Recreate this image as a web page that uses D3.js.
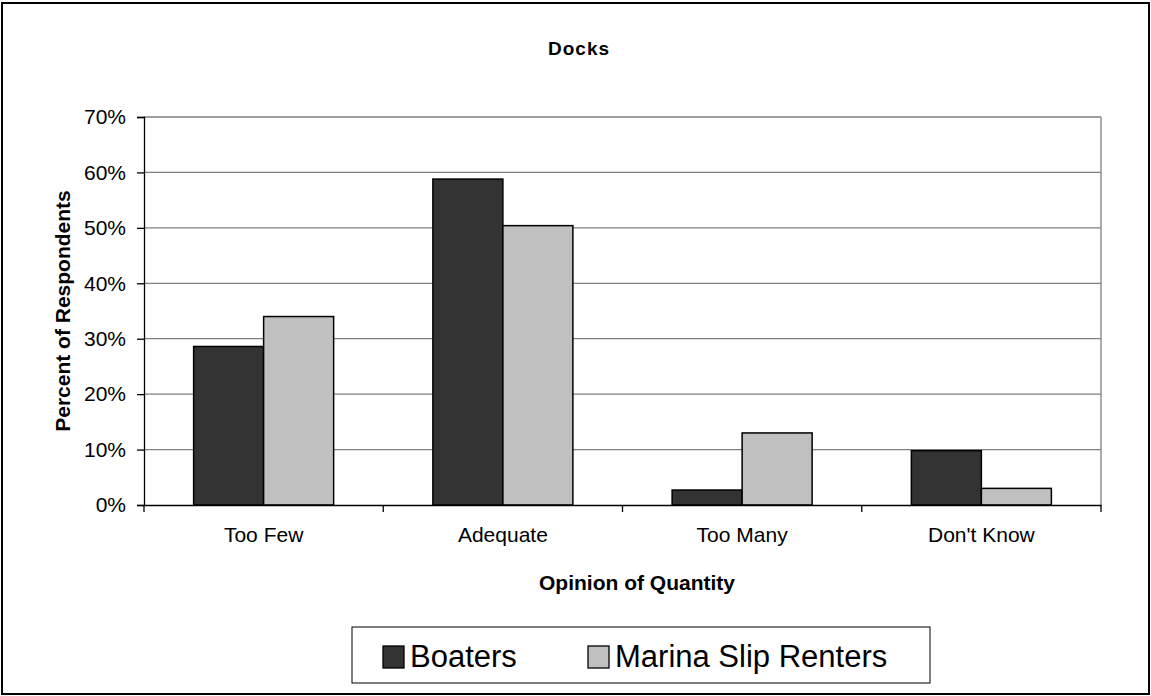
<!DOCTYPE html>
<html><head><meta charset="utf-8">
<script src="https://cdn.jsdelivr.net/npm/d3@7"></script>
<style>body{margin:0;background:#fff}svg{display:block}text{font-family:"Liberation Sans",Arial,sans-serif}</style>
</head><body><svg id="c" width="1151" height="696"></svg>
<script>
const categories = ["Too Few", "Adequate", "Too Many", "Don't Know"];
const series = ["Boaters", "Marina Slip Renters"];
const boaters = [28.6, 58.8, 2.7, 9.8];
const slipRenters = [34.0, 50.4, 13.0, 3.0];
const yTicks = [0, 10, 20, 30, 40, 50, 60, 70];
const colors = ["#333333", "#c0c0c0"];
const values = [boaters, slipRenters];

const svg = d3.select("#c");
svg.append("rect").attr("x", 2).attr("y", 3).attr("width", 1147).attr("height", 691)
  .attr("fill", "#fff").attr("stroke", "#000").attr("stroke-width", 2);

const L = 144, R = 1101, T = 117, B = 505;
const x = d3.scaleBand().domain(categories).range([L, R]).padding(0);
const y = d3.scaleLinear().domain([0, 70]).range([B, T]);
const bw = x.bandwidth();
const groupW = 140;
const x1 = d3.scaleBand().domain(series).range([(bw - groupW) / 2, (bw + groupW) / 2]);

// gridlines
svg.append("g").selectAll("line").data(yTicks.filter(d => d > 0)).join("line")
  .attr("x1", L).attr("x2", R).attr("y1", d => y(d)).attr("y2", d => y(d))
  .attr("stroke", "#808080").attr("stroke-width", 1.3);
// right border
svg.append("line").attr("x1", R).attr("x2", R).attr("y1", T).attr("y2", B)
  .attr("stroke", "#808080").attr("stroke-width", 1.3);

// bars
const g = svg.append("g");
series.forEach((s, si) => {
  g.append("g").selectAll("rect").data(categories).join("rect")
    .attr("x", c => x(c) + x1(s))
    .attr("width", x1.bandwidth())
    .attr("y", (c, i) => y(values[si][i]))
    .attr("height", (c, i) => B - y(values[si][i]))
    .attr("fill", colors[si]).attr("stroke", "#000").attr("stroke-width", 1.5);
});

// y axis
const yAxis = d3.axisLeft(y).tickValues(yTicks).tickFormat(d => d + "%").tickSize(7).tickPadding(11);
const ya = svg.append("g").attr("transform", `translate(${L},0)`).call(yAxis);
ya.select(".domain").attr("stroke", "#000").attr("stroke-width", 1.3);
ya.selectAll(".tick line").attr("stroke", "#000").attr("stroke-width", 1.3);
ya.selectAll("text").attr("font-size", 21).attr("fill", "#000").attr("font-family", "Liberation Sans, Arial, sans-serif");

// x axis
const xAxis = d3.axisBottom(x).tickSize(0).tickPadding(22);
const xa = svg.append("g").attr("transform", `translate(0,${B})`).call(xAxis);
xa.select(".domain").attr("stroke", "#000").attr("stroke-width", 1.3);
xa.selectAll("text").attr("font-size", 21).attr("fill", "#000").attr("font-family", "Liberation Sans, Arial, sans-serif");
// category separator ticks
const sepTicks = categories.map(c => x(c)).concat([R]);
svg.append("g").selectAll("line").data(sepTicks).join("line")
  .attr("x1", d => d).attr("x2", d => d).attr("y1", B).attr("y2", B + 7)
  .attr("stroke", "#000").attr("stroke-width", 1.3);

// titles
svg.append("text").attr("x", 579).attr("y", 55).attr("text-anchor", "middle")
  .attr("font-size", 19).attr("font-weight", "bold").attr("letter-spacing", 1).text("Docks");
svg.append("text").attr("x", 637).attr("y", 590).attr("text-anchor", "middle")
  .attr("font-size", 21).attr("font-weight", "bold").text("Opinion of Quantity");
svg.append("text").attr("transform", `translate(70,${(T + B) / 2}) rotate(-90)`).attr("text-anchor", "middle")
  .attr("font-size", 21).attr("font-weight", "bold").text("Percent of Respondents");

// legend
const lg = svg.append("g");
lg.append("rect").attr("x", 352).attr("y", 627).attr("width", 578).attr("height", 56)
  .attr("fill", "#fff").attr("stroke", "#000").attr("stroke-width", 1);
const legX = [383, 588];
series.forEach((s, i) => {
  lg.append("rect").attr("x", legX[i]).attr("y", 646).attr("width", 21).attr("height", 22)
    .attr("fill", colors[i]).attr("stroke", "#000").attr("stroke-width", 1.3);
  lg.append("text").attr("x", legX[i] + 27).attr("y", 667).attr("font-size", 31).text(s);
});
</script></body></html>
